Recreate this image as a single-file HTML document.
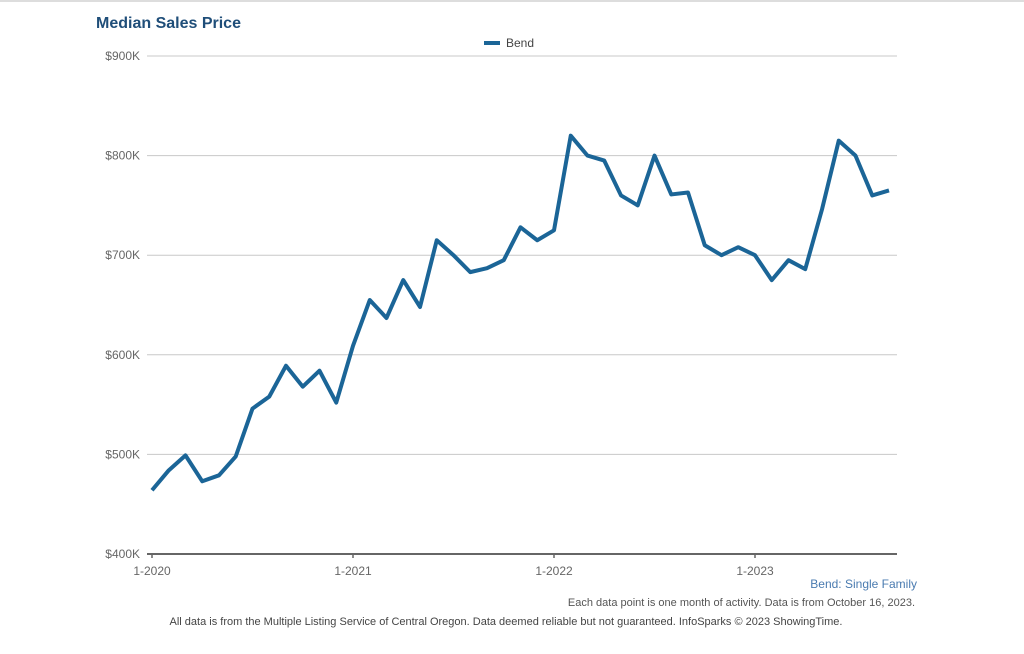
<!DOCTYPE html>
<html><head><meta charset="utf-8"><style>
body{margin:0;background:#fff;width:1024px;height:654px;overflow:hidden;font-family:"Liberation Sans",Arial,sans-serif}
</style></head><body>
<div style="position:absolute;left:0;top:0;width:1024px;height:2px;background:#ddd"></div>
<svg id="chart" width="1024" height="654" style="position:absolute;left:0;top:0" font-family="Liberation Sans, Arial, sans-serif"></svg>
<script>
const yTicks=[400,500,600,700,800,900];
const yLabels=["$400K","$500K","$600K","$700K","$800K","$900K"];
const xTickIdx=[0,12,24,36];
const xLabels=["1-2020","1-2021","1-2022","1-2023"];
const values=[464,484,499,473,479,498,546,558,589,568,584,552,609,655,637,675,648,715,700,683,687,695,728,715,725,820,800,795,760,750,800,761,763,710,700,708,700,675,695,686,746,815,800,760,765];
const svg=document.getElementById('chart');
const NS='http://www.w3.org/2000/svg';
const X0=152,DX=16.75,Y0=554,YS=0.996;
const xs=i=>X0+i*DX, ys=v=>Y0-(v-400)*YS;
function mk(t,a,txt){const e=document.createElementNS(NS,t);for(const k in a)e.setAttribute(k,a[k]);if(txt!=null)e.textContent=txt;svg.appendChild(e);return e;}
yTicks.forEach((v,i)=>{
 const l=mk('line',{x1:147,x2:897,y1:ys(v),y2:ys(v),stroke:i==0?'#666':'#c8c8c8','stroke-width':i==0?2:1});
 
 
 const t=mk('text',{x:140,y:ys(v)+4,'text-anchor':'end','font-size':12,fill:'#666'},yLabels[i]);
 
 
});
xTickIdx.forEach((idx,i)=>{
 const tk=mk('line',{x1:xs(idx),x2:xs(idx),y1:554,y2:558,stroke:'#666','stroke-width':1.5});
 
 
 const t=mk('text',{x:xs(idx),y:575,'text-anchor':'middle','font-size':12,fill:'#666'},xLabels[i]);
 
 
});
const p=mk('polyline',{points:values.map((v,i)=>xs(i)+','+ys(v)).join(' '),fill:'none',stroke:'#1b6597','stroke-width':4,'stroke-linejoin':'round'});


const tt=mk('text',{x:96,y:28,'font-size':16,'font-weight':'bold',fill:'#1f4e79'},'Median Sales Price');


const lg=mk('line',{x1:484,x2:500,y1:43,y2:43,stroke:'#1b6597','stroke-width':4});


const lt=mk('text',{x:506,y:47,'font-size':12,fill:'#444'},'Bend');


const s1=mk('text',{x:917,y:588,'text-anchor':'end','font-size':12,fill:'#4a7bb0'},'Bend: Single Family');


const s2=mk('text',{x:915,y:606,'text-anchor':'end','font-size':11,fill:'#555'},'Each data point is one month of activity. Data is from October 16, 2023.');


const s3=mk('text',{x:506,y:625,'text-anchor':'middle','font-size':11,fill:'#444'},'All data is from the Multiple Listing Service of Central Oregon. Data deemed reliable but not guaranteed. InfoSparks © 2023 ShowingTime.');


</script>
</body></html>
